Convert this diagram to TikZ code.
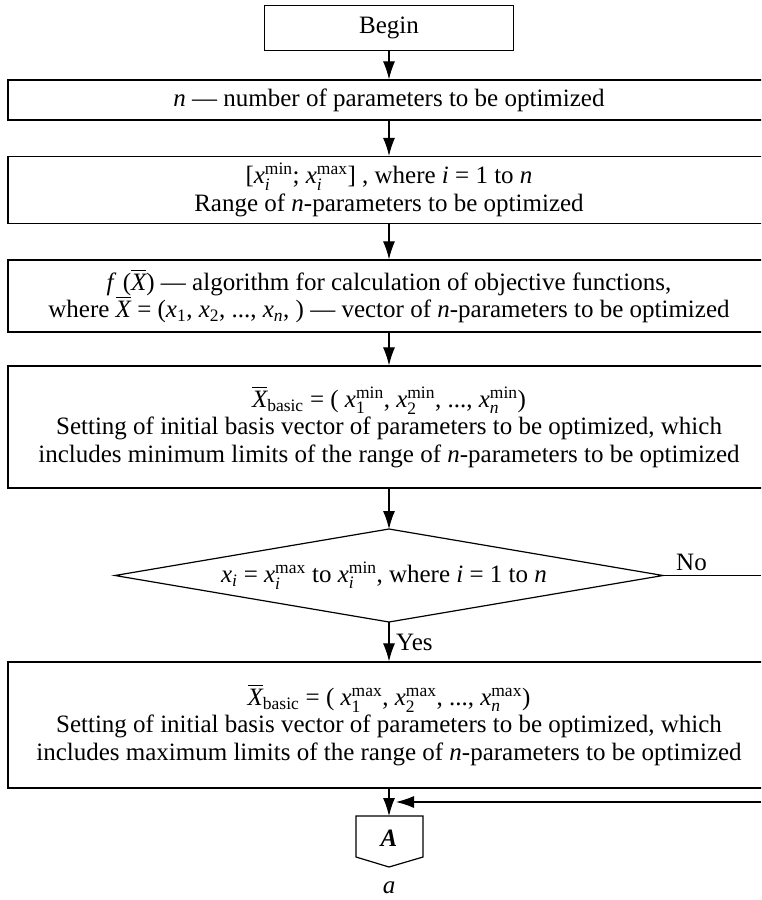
\documentclass[tikz,border=0pt]{standalone}
\usepackage{amsmath}
\usepackage{fontspec}
\setmainfont{Liberation Serif}
\usetikzlibrary{arrows.meta}
\newcommand{\vx}{\textit{x}}
\newcommand{\vX}{\overline{\textit{X}}}
\begin{document}
\begin{tikzpicture}[x=1pt,y=-1pt,
  box/.style={draw,line width=1.3pt,minimum width=762pt,align=center,inner sep=0pt,
    font=\fontsize{25}{27.5}\selectfont},
  lbl/.style={font=\fontsize{25}{27.5}\selectfont,inner sep=0pt},
  arr/.style={-{Latex[length=18pt,width=12pt]},line width=1.1pt},
  ln/.style={line width=1.2pt}]
\useasboundingbox (0,0) rectangle (761,900);
\clip (0,0) rectangle (761,900);

\node[box,minimum width=249pt,minimum height=45pt] (begin) at (389,28) {Begin};
\node[box,minimum height=40pt] (b1) at (389,100) {\textit{n} — number of parameters to be optimized};
\node[box,minimum height=67pt] (b2) at (389,190) {[$\vx_{\textit{i}}^{\text{min}}$; $\vx_{\textit{i}}^{\text{max}}$] , where \textit{i} = 1 to \textit{n}\\
Range of \textit{n}-parameters to be optimized};
\node[box,minimum height=72pt] (b3) at (389,296) {\textit{f} ($\vX$) — algorithm for calculation of objective functions,\\
where $\vX$ = ($\vx_{\text{1}}$, $\vx_{\text{2}}$, ..., $\vx_{\textit{n}}$, ) — vector of \textit{n}-parameters to be optimized};
\node[box,minimum height=122pt] (b4) at (389,427) {$\vX_{\text{basic}}$ = ( $\vx_{\text{1}}^{\text{min}}$, $\vx_{\text{2}}^{\text{min}}$, ..., $\vx_{\textit{n}}^{\text{min}}$)\\
Setting of initial basis vector of parameters to be optimized, which\\
includes minimum limits of the range of \textit{n}-parameters to be optimized};

% decision
\coordinate (dt) at (389,529);
\coordinate (db) at (389,622);
\coordinate (dl) at (115,575.5);
\coordinate (dr) at (663,575.5);
\draw[ln] (dt) -- (dr) -- (db) -- (dl) -- cycle;
\node[lbl] (d) at (384,575.5) {$\vx_{\textit{i}}$ = $\vx_{\textit{i}}^{\text{max}}$ to $\vx_{\textit{i}}^{\text{min}}$, where \textit{i} = 1 to \textit{n}};

\node[box,minimum height=126pt] (b5) at (389,725) {$\vX_{\text{basic}}$ = ( $\vx_{\text{1}}^{\text{max}}$, $\vx_{\text{2}}^{\text{max}}$, ..., $\vx_{\textit{n}}^{\text{max}}$)\\
Setting of initial basis vector of parameters to be optimized, which\\
includes maximum limits of the range of \textit{n}-parameters to be optimized};

% connector A
\coordinate (Atop) at (389,816);
\draw[ln] (356,816) -- (423,816) -- (423,857) -- (389,867) -- (356,857) -- cycle;
\node[lbl] (A) at (389,838) {\textbf{\textit{A}}};
\node[lbl] (cap) at (389,888) {\textit{a}};

% connectors
\draw[arr] (begin.south) -- (begin.south |- b1.north);
\draw[arr] (b1.south) -- (b2.north);
\draw[arr] (b2.south) -- (b3.north);
\draw[arr] (b3.south) -- (b4.north);
\draw[arr] (b4.south) -- (dt);
\draw[arr] (db) -- (b5.north);
\node[lbl,anchor=west] (yes) at (396,642) {Yes};
\coordinate (noEnd) at (761,575.5);
\draw[ln] (dr) -- (noEnd);
\node[lbl,anchor=west] (no) at (676,562) {No};
\draw[arr] (b5.south) -- (Atop);
\coordinate (retStart) at (761,802);
\coordinate (retEnd) at (396,802);
\draw[arr] (retStart) -- (retEnd);
\end{tikzpicture}
\end{document}
